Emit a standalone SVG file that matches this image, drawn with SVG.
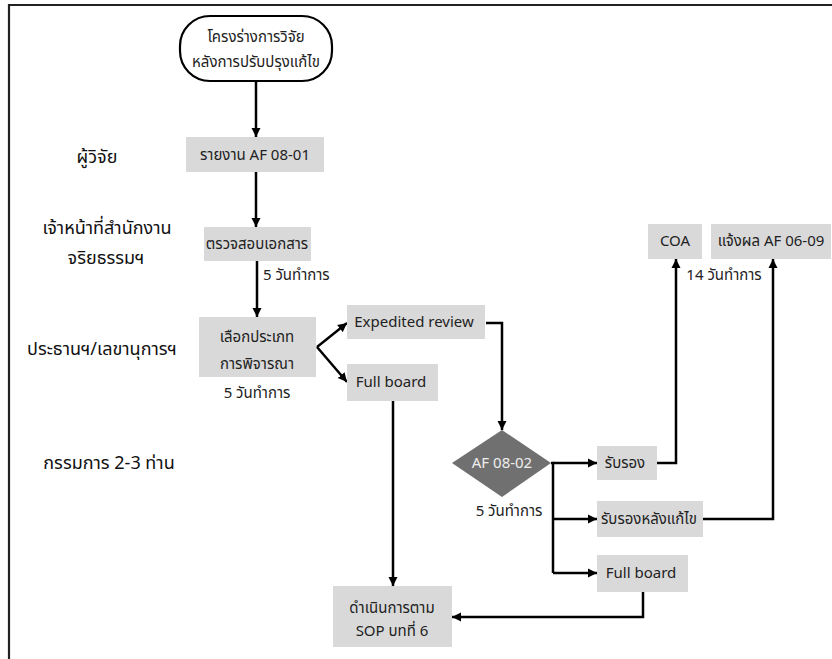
<svg xmlns="http://www.w3.org/2000/svg" width="832" height="659" viewBox="0 0 832 659">
<style>
text{font-family:"Noto Sans Thai","Noto Sans","DejaVu Sans","Liberation Sans",sans-serif;font-size:15px;fill:#222;text-anchor:middle;dominant-baseline:central}
.lane{font-size:18px;fill:#111}
.box{fill:#d9d9d9}
.dia{fill:#707070}
.wt{fill:#eeeeee}
.c{fill:none;stroke:#000;stroke-width:2.5}
.ca{fill:none;stroke:#000;stroke-width:2.5;marker-end:url(#ah)}
.lbl{text-anchor:start}
</style>
<defs>
<marker id="ah" markerUnits="userSpaceOnUse" markerWidth="10" markerHeight="10" refX="9" refY="5" orient="auto">
<path d="M0,0.5 L9,5 L0,9.5 z" fill="#000"/>
</marker>
</defs>
<rect width="832" height="659" fill="#fff"/>
<path d="M9,659 V5 H832" fill="none" stroke="#222" stroke-width="2.2"/>
<g id="lanes">
<text class="lane" x="97" y="157">ผู้วิจัย</text>
<text class="lane" x="107" y="228">เจ้าหน้าที่สำนักงาน</text>
<text class="lane" x="106" y="258">จริยธรรมฯ</text>
<text class="lane" x="102" y="349">ประธานฯ/เลขานุการฯ</text>
<text class="lane" x="109" y="463">กรรมการ 2-3 ท่าน</text>
</g>
<g id="connectors">
<path class="ca" d="M256,81 V137"/>
<path class="ca" d="M256,172 V227"/>
<path class="ca" d="M257,261 V317"/>
<path class="ca" d="M317,347 L347,323"/>
<path class="ca" d="M317,347 L347,382"/>
<path class="ca" d="M486,323 H502 V430"/>
<path class="ca" d="M393,401 V586"/>
<path class="c" d="M551,463 H553 V573"/>
<path class="ca" d="M553,463 H597"/>
<path class="ca" d="M553,519 H597"/>
<path class="ca" d="M553,573 H597"/>
<path class="ca" d="M657,463 H676 V259"/>
<path class="ca" d="M703,519 H773 V259"/>
<path class="ca" d="M643,592 V617 H452"/>
</g>
<g id="start">
<rect x="180" y="16" width="152" height="65" rx="30" ry="30" fill="#fff" stroke="#000" stroke-width="2.2"/>
<text x="256" y="37">โครงร่างการวิจัย</text>
<text x="256" y="62">หลังการปรับปรุงแก้ไข</text>
</g>
<g id="report">
<rect class="box" x="186" y="137" width="138" height="35"/>
<text x="255" y="155">รายงาน AF 08-01</text>
</g>
<g id="check">
<rect class="box" x="204" y="227" width="107" height="34"/>
<text x="257" y="244">ตรวจสอบเอกสาร</text>
<text class="lbl" x="263" y="275">5 วันทำการ</text>
</g>
<g id="select">
<rect class="box" x="199" y="317" width="117" height="60"/>
<text x="257" y="337">เลือกประเภท</text>
<text x="257" y="364">การพิจารณา</text>
<text x="257" y="393">5 วันทำการ</text>
</g>
<g id="expedited">
<rect class="box" x="347" y="305" width="138" height="34"/>
<text x="414" y="322">Expedited review</text>
</g>
<g id="fullboard1">
<rect class="box" x="347" y="364" width="91" height="37"/>
<text x="391" y="382">Full board</text>
</g>
<g id="af0802">
<polygon class="dia" points="502,430 551,463 502,497 452,463"/>
<text class="wt" x="502" y="463">AF 08-02</text>
<text x="509" y="511">5 วันทำการ</text>
</g>
<g id="approve">
<rect class="box" x="597" y="446" width="60" height="34"/>
<text x="625" y="463">รับรอง</text>
</g>
<g id="approve-revised">
<rect class="box" x="597" y="501" width="106" height="36"/>
<text x="649" y="519">รับรองหลังแก้ไข</text>
</g>
<g id="fullboard2">
<rect class="box" x="597" y="555" width="91" height="37"/>
<text x="641" y="573">Full board</text>
</g>
<g id="sop">
<rect class="box" x="333" y="586" width="119" height="61"/>
<text x="392" y="608">ดำเนินการตาม</text>
<text x="392" y="631">SOP บทที่ 6</text>
</g>
<g id="coa">
<rect class="box" x="648" y="224" width="54" height="35"/>
<text x="675" y="241">COA</text>
</g>
<g id="notify">
<rect class="box" x="711" y="224" width="120" height="35"/>
<text x="771" y="241">แจ้งผล AF 06-09</text>
<text x="724" y="275">14 วันทำการ</text>
</g>
</svg>
